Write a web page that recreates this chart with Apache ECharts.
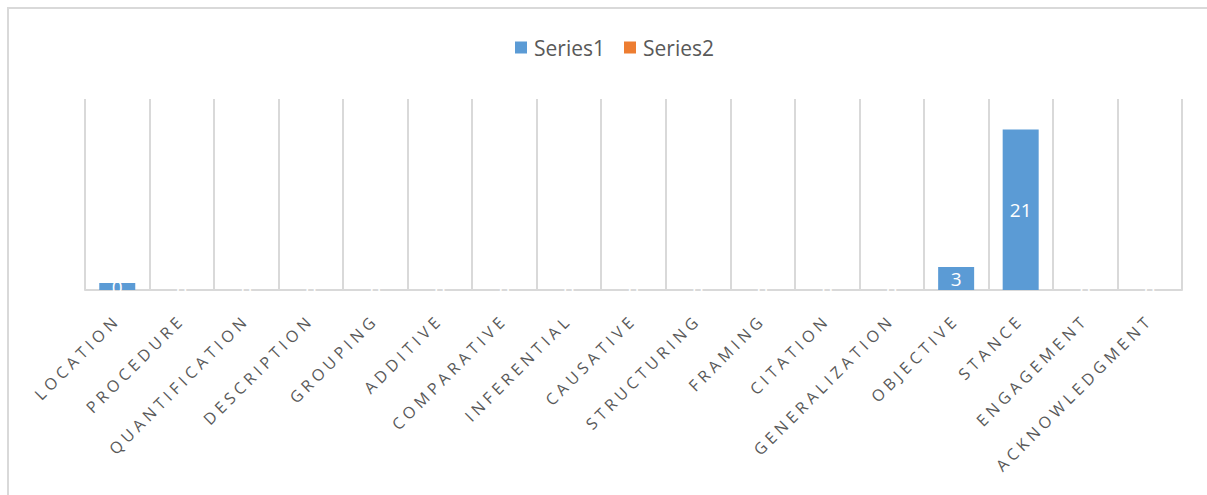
<!DOCTYPE html>
<html>
<head>
<meta charset="utf-8">
<script src="https://cdn.jsdelivr.net/npm/echarts@6/dist/echarts.min.js"></script>
<style>
  html, body { margin: 0; padding: 0; background: #fff; overflow: hidden; }
  .frame {
    position: absolute;
    left: 7px;
    top: 7px;
    width: 1240px;
    height: 540px;
    border: 2px solid #d9d9d9;
  }
  #chart { position: absolute; left: 0; top: 0; width: 1207px; height: 495px; }
  /* Excel-style expanded spacing on the category labels */
  #chart text[style*="16px"] { letter-spacing: 4.3px; }
</style>
</head>
<body>
<div class="frame"></div>
<div id="chart"></div>
<script>
const categories = ['LOCATION', 'PROCEDURE', 'QUANTIFICATION', 'DESCRIPTION', 'GROUPING', 'ADDITIVE',
  'COMPARATIVE', 'INFERENTIAL', 'CAUSATIVE', 'STRUCTURING', 'FRAMING', 'CITATION',
  'GENERALIZATION', 'OBJECTIVE', 'STANCE', 'ENGAGEMENT', 'ACKNOWLEDGMENT']
const series1 = [0.9, 0, 0, 0, 0, 0, 0, 0, 0, 0, 0, 0, 0, 3, 21, 0, 0]
const series2 = [0, 0, 0, 0, 0, 0, 0, 0, 0, 0, 0, 0, 0, 0, 0, 0, 0]
const seriesNames = ['Series1', 'Series2']

const chart = echarts.init(document.getElementById('chart'), null, { renderer: 'svg' })

const option = {
  animation: false,
  color: ['#5b9bd5', '#ed7d31'],
  legend: {
    data: seriesNames,
    top: 32,
    left: 510,
    itemWidth: 12,
    itemHeight: 12,
    itemGap: 19,
    icon: 'rect',
    textStyle: {
      color: '#595959',
      fontSize: 21,
      fontFamily: 'Open Sans',
      padding: [0, 0, 0, 2]
    }
  },
  grid: {
    top: 99,
    left: 85,
    right: 25,
    bottom: 205
  },
  xAxis: {
    type: 'category',
    data: categories,
    axisTick: { show: false },
    axisLine: { lineStyle: { color: '#d9d9d9', width: 2 } },
    splitLine: { show: true, lineStyle: { color: '#d9d9d9', width: 2 } },
    axisLabel: {
      interval: 0,
      rotate: 45,
      margin: 27,
      color: '#595959',
      fontSize: 16,
      fontFamily: 'Open Sans'
    }
  },
  yAxis: {
    type: 'value',
    min: 0,
    max: 25,
    show: false,
    splitLine: { show: false }
  },
  series: [
    {
      name: seriesNames[0],
      type: 'bar',
      data: series1,
      barWidth: 36,
      barGap: '-100%',
      label: {
        show: true,
        position: 'inside',
        color: '#fff',
        fontSize: 19,
        fontFamily: 'Open Sans',
        formatter: p => Math.floor(p.value)
      }
    },
    {
      name: seriesNames[1],
      type: 'bar',
      data: series2,
      barWidth: 36
    }
  ]
}

chart.setOption(option)
</script>
</body>
</html>
